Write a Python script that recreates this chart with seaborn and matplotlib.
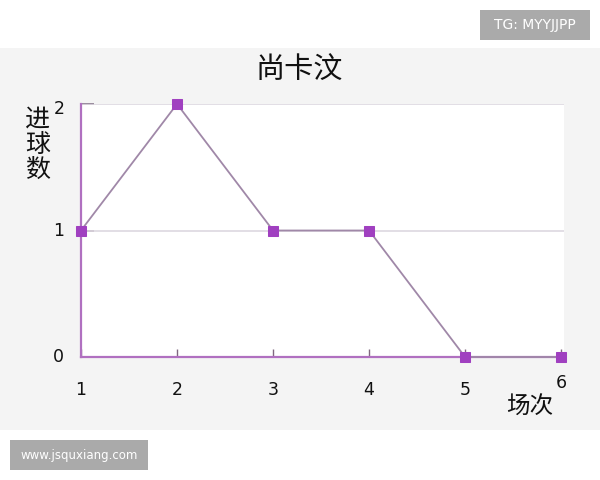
import matplotlib
matplotlib.use("Agg")
import matplotlib.pyplot as plt
import seaborn as sns
import pandas as pd
from matplotlib.patches import Rectangle

# datos del grafico
rounds = [1, 2, 3, 4, 5, 6]
goals = [1, 2, 1, 1, 0, 0]
x_ticks = [1, 2, 3, 4, 5, 6]
y_ticks = [0, 1, 2]

df = pd.DataFrame({"round": rounds, "goals": goals})

sns.set_theme(style="white")
plt.rcParams["font.family"] = ["Noto Sans CJK SC", "DejaVu Sans"]

fig = plt.figure(figsize=(6, 4.8), dpi=100)
fig.patch.set_facecolor("white")

# panel gris de fondo
fig.patches.append(Rectangle((0, 1 - 430 / 480), 1, 382 / 480, transform=fig.transFigure,
                             facecolor="#f4f4f4", edgecolor="none", zorder=-5))

ax = fig.add_axes([81 / 600, 1 - 357 / 480, 483 / 600, 253 / 480])
ax.set_facecolor("white")

for yv in [1, 2]:
    ax.axhline(yv, color="#ddd8e0", lw=1.2, zorder=1)

sns.lineplot(data=df, x="round", y="goals", ax=ax, color="#a088a8", lw=1.3,
             marker="s", markersize=6.5, markerfacecolor="#a040c0",
             markeredgecolor="#a040c0", clip_on=False, zorder=3)

ax.set_xlim(1, 6.03)
ax.set_ylim(0, 2)

for s in ["top", "right"]:
    ax.spines[s].set_visible(False)
ax.spines["left"].set_color("#b070c0")
ax.spines["bottom"].set_color("#b070c0")
ax.spines["left"].set_linewidth(1.6)
ax.spines["bottom"].set_linewidth(1.6)

ax.set_xticks(x_ticks)
ax.set_yticks(y_ticks)
ax.set_xticklabels([])
ax.set_yticklabels([])
ax.tick_params(axis="x", direction="in", length=6, width=1, color="#806880", bottom=True)
ax.tick_params(axis="y", direction="in", length=9, width=1.2, color="#8a7a8e", left=True)
ax.set_xlabel("")
ax.set_ylabel("")

# etiquetas de los ejes
for xv in x_ticks:
    dy = -19 if xv == x_ticks[-1] else -24
    ax.annotate(str(xv), (xv, 0), xytext=(0, dy), textcoords="offset points",
                ha="center", va="center", fontsize=12.5, color="#111111", family="DejaVu Sans",
                annotation_clip=False)
for yv in y_ticks:
    dy = -3.6 if yv == y_ticks[-1] else 0
    ax.annotate(str(yv), (1, yv), xytext=(-16, dy), textcoords="offset points",
                ha="center", va="center", fontsize=12.5, color="#111111", family="DejaVu Sans",
                annotation_clip=False)

fig.text(299 / 600, 1 - 70 / 480, "尚卡汶", ha="center", va="center", fontsize=21, color="#111111")
fig.text(38 / 600, 1 - 145 / 480, "进\n球\n数", ha="center", va="center", fontsize=18,
         color="#111111", linespacing=0.95)
fig.text(530 / 600, 1 - 407 / 480, "场次", ha="center", va="center", fontsize=17, color="#111111")

# marcas de agua
fig.patches.append(Rectangle((10 / 600, 1 - 470 / 480), 138 / 600, 30 / 480, transform=fig.transFigure,
                             facecolor="#aaaaaa", edgecolor="none"))
fig.text(79 / 600, 1 - 455 / 480, "www.jsquxiang.com", ha="center", va="center",
         fontsize=8.5, color="white", family="DejaVu Sans")
fig.patches.append(Rectangle((480 / 600, 1 - 40 / 480), 110 / 600, 30 / 480, transform=fig.transFigure,
                             facecolor="#aaaaaa", edgecolor="none"))
fig.text(535 / 600, 1 - 25 / 480, "TG: MYYJJPP", ha="center", va="center",
         fontsize=10, color="white", family="DejaVu Sans")

fig.savefig("out.png", dpi=100)
